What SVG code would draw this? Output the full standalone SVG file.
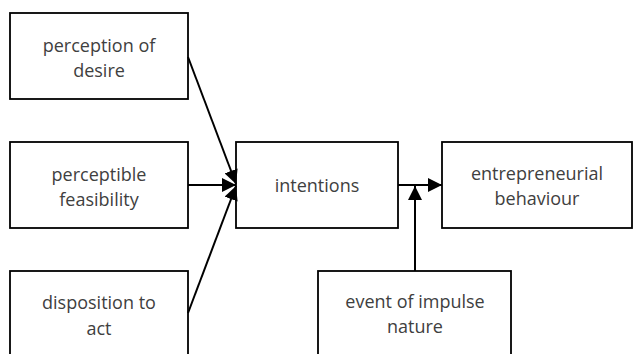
<svg xmlns="http://www.w3.org/2000/svg" width="633" height="354" viewBox="0 0 633 354">
<style>
.box{fill:#fff;stroke:#000;stroke-width:1.8}
.t{font-family:"Open Sans","Liberation Sans",sans-serif;font-size:18px;fill:#404040;text-anchor:middle}
.c{stroke:#000;stroke-width:2;fill:none}
</style>
<defs>
<marker id="ah" viewBox="0 0 10 10" refX="10" refY="5" markerWidth="7" markerHeight="7" orient="auto" markerUnits="strokeWidth">
<path d="M0,0 L10,5 L0,10 z" fill="#000"/>
</marker>
</defs>
<rect width="633" height="354" fill="#fff"/>
<g id="n1"><rect class="box" x="10" y="13" width="178" height="86"/><text class="t" x="99" y="52">perception of</text><text class="t" x="99" y="77">desire</text></g>
<g id="n2"><rect class="box" x="10" y="142" width="178" height="86"/><text class="t" x="99" y="181">perceptible</text><text class="t" x="99" y="206">feasibility</text></g>
<g id="n3"><rect class="box" x="10" y="271" width="178" height="100"/><text class="t" x="99" y="309">disposition to</text><text class="t" x="99" y="335">act</text></g>
<g id="n4"><rect class="box" x="236" y="142" width="162" height="86"/><text class="t" x="317" y="192">intentions</text></g>
<g id="n5"><rect class="box" x="442" y="142" width="190" height="86"/><text class="t" x="537" y="180">entrepreneurial</text><text class="t" x="537" y="205">behaviour</text></g>
<g id="n6"><rect class="box" x="318" y="271" width="193" height="100"/><text class="t" x="415" y="308">event of impulse</text><text class="t" x="415" y="333">nature</text></g>
<g id="connectors">
<line class="c" x1="188" y1="57" x2="236" y2="184" marker-end="url(#ah)"/>
<line class="c" x1="188" y1="185" x2="236" y2="185" marker-end="url(#ah)"/>
<line class="c" x1="188" y1="313" x2="236" y2="186" marker-end="url(#ah)"/>
<line class="c" x1="398" y1="185" x2="442" y2="185" marker-end="url(#ah)"/>
<line class="c" x1="415" y1="271" x2="415" y2="186" marker-end="url(#ah)"/>
</g>
</svg>
